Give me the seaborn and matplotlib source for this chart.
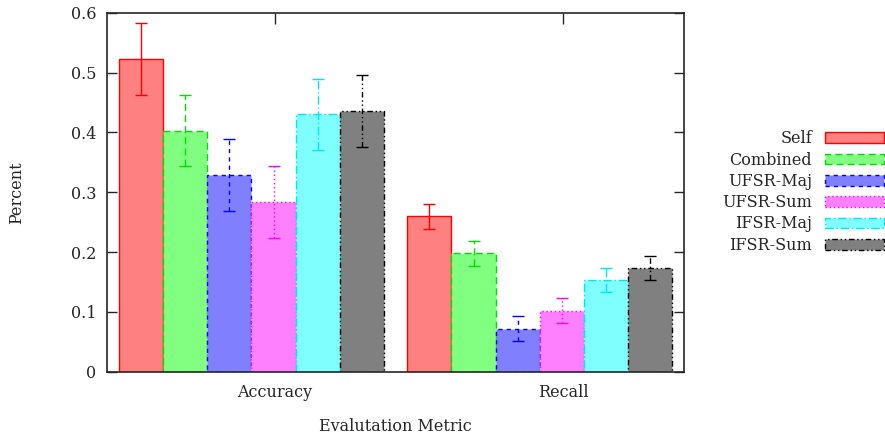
import matplotlib
matplotlib.use("Agg")
import matplotlib.pyplot as plt
import seaborn as sns
import pandas as pd
from matplotlib.patches import Patch

# values
metrics = ["Accuracy", "Recall"]
methods = ["Self", "Combined", "UFSR-Maj", "UFSR-Sum", "IFSR-Maj", "IFSR-Sum"]
accuracy = [0.523, 0.403, 0.329, 0.284, 0.430, 0.436]
accuracy_err = [0.060, 0.060, 0.060, 0.060, 0.060, 0.060]
recall = [0.260, 0.198, 0.072, 0.102, 0.154, 0.174]
recall_err = [0.021, 0.021, 0.021, 0.021, 0.020, 0.020]

fill_colors = ["#ff8080", "#80ff80", "#8080ff", "#ff80ff", "#80ffff", "#808080"]
edge_colors = ["#ff0000", "#00e000", "#0000ff", "#ff00ff", "#00e8e8", "#000000"]
dashes = ["-", (0, (5, 3)), (0, (3, 3)), (0, (1, 2)), (0, (6, 2, 1, 2)), (0, (4, 2, 1, 2, 1, 2))]

df = pd.DataFrame({
    "metric": [m for m in metrics for _ in methods],
    "method": methods * len(metrics),
    "value": accuracy + recall,
    "err": accuracy_err + recall_err,
})

sns.set_style("ticks")
plt.rcParams["font.family"] = ["DejaVu Serif"]

fig, ax = plt.subplots(figsize=(8.85, 4.36), dpi=100)
fig.subplots_adjust(left=107.3 / 885, right=684 / 885, top=1 - 12.7 / 436, bottom=1 - 371.7 / 436)

sns.barplot(data=df, x="metric", y="value", hue="method", order=metrics, hue_order=methods,
            palette=fill_colors, width=0.92, gap=0, errorbar=None, saturation=1,
            legend=False, ax=ax)

# style bars and add error bars at the bar centres
bar_containers = list(ax.containers)
for j, cont in enumerate(bar_containers):
    for i, bar in enumerate(cont.patches):
        bar.set_edgecolor(edge_colors[j])
        bar.set_linestyle(dashes[j])
        bar.set_linewidth(1.0)
        row = df[(df.metric == metrics[i]) & (df.method == methods[j])].iloc[0]
        eb = ax.errorbar(bar.get_x() + bar.get_width() / 2, row.value, yerr=row.err,
                         fmt="none", ecolor=edge_colors[j], elinewidth=1.0,
                         capsize=4, capthick=1.0)
        eb[2][0].set_linestyle(dashes[j])

ax.set_xlim(-0.5, 1.5)
ax.set_ylim(0, 0.6)
ax.set_yticks([0, 0.1, 0.2, 0.3, 0.4, 0.5, 0.6])
ax.set_yticklabels(["0", "0.1", "0.2", "0.3", "0.4", "0.5", "0.6"])
ax.set_xticks([0.082, 1.082])
ax.set_xticklabels(metrics)
ax.tick_params(direction="in", length=7, width=1.0, top=True, right=True, labelsize=11.5, pad=8)
ax.tick_params(axis="x", length=8, pad=9, bottom=False, labelbottom=True)
for s in ax.spines.values():
    s.set_visible(True)
    s.set_linewidth(1.2)
ax.set_xlabel("Evalutation Metric", fontsize=11.5, labelpad=12)
ax.set_ylabel("Percent", fontsize=11.5, labelpad=33)

# legend: text right-aligned, sample box on the right
handles = [Patch(facecolor=fill_colors[k], edgecolor=edge_colors[k], linestyle=dashes[k], linewidth=1.0)
           for k in range(len(methods))]
leg = fig.legend(handles, methods, loc="center right", bbox_to_anchor=(884 / 885, 1 - 192 / 436),
                 frameon=False, markerfirst=False, fontsize=11.5, handlelength=3.7,
                 handleheight=0.65, labelspacing=0.27, handletextpad=0.8, borderpad=0,
                 borderaxespad=0)
for col in leg._legend_handle_box.get_children():
    col.align = "right"

fig.savefig("out.png", dpi=100)
